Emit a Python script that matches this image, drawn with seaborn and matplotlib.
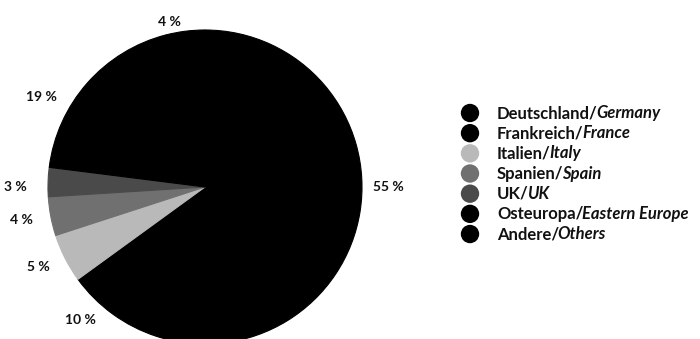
import matplotlib
matplotlib.use("Agg")
import matplotlib.pyplot as plt
import seaborn as sns
import numpy as np

# ---- data ----
categories_de = ["Deutschland", "Frankreich", "Italien", "Spanien", "UK", "Osteuropa", "Andere"]
categories_en = ["Germany", "France", "Italy", "Spain", "UK", "Eastern Europe", "Others"]
shares = [55, 10, 5, 4, 3, 19, 4]
pct_labels = [f"{v} %" for v in shares]

# ---- style ----
sns.set_theme(style="white")
plt.rcParams["font.family"] = ["Lato", "DejaVu Sans"]
colors = ["#000000", "#000000", "#b9b9b9", "#707070", "#4a4a4a", "#000000", "#000000"]

# label positions (polar: angle in degrees, radius in pie units)
label_layout = [(0, 1.17), (226.8, 1.16), (205.6, 1.18), (190.2, 1.185),
                (180, 1.21), (151.3, 1.19), (102, 1.075)]

W, H = 700, 339
R = 157.0
cx, cy = 205.0, 187.0

fig = plt.figure(figsize=(W / 100, H / 100), dpi=100)
fig.patch.set_facecolor("white")
ax = fig.add_axes([0, 0, 2 * cx / W, 1])
wedges, _ = ax.pie(shares, colors=colors, startangle=90, counterclock=False,
                   wedgeprops=dict(linewidth=0.8))
for w in wedges:
    w.set_edgecolor(w.get_facecolor())
ax.set_xlim(-cx / R, cx / R)
ax.set_ylim(-(H - cy) / R, cy / R)
ax.set_aspect("equal")
ax.axis("off")

for lab, (ang, rad) in zip(pct_labels, label_layout):
    a = np.deg2rad(ang)
    ax.text(rad * np.cos(a), rad * np.sin(a), lab, ha="center", va="center",
            fontsize=10, fontweight="bold", color="#111111")

# ---- legend (manual) ----
ax2 = fig.add_axes([0, 0, 1, 1])
ax2.set_xlim(0, W)
row0, step = 113.0, 20.17
ax2.set_ylim((H - row0) / step, -row0 / step)
ax2.axis("off")
ax2.patch.set_alpha(0)
rows = np.arange(len(categories_de))
ax2.scatter(np.full(len(rows), 470.0), rows, s=175, c=colors, linewidths=0)

fig.canvas.draw()
renderer = fig.canvas.get_renderer()
fs = 12
for i, (de, en) in enumerate(zip(categories_de, categories_en)):
    t = ax2.text(497, i + 0.25, de + "/", ha="left", va="baseline", fontsize=fs,
                 fontweight="bold", color="#111111")
    bb = t.get_window_extent(renderer=renderer)
    x1 = ax2.transData.inverted().transform((bb.x1, bb.y0))[0]
    ax2.text(x1 - 1.5, i + 0.25, en, ha="left", va="baseline", fontsize=fs,
             fontweight="bold", fontstyle="italic", color="#111111")

fig.savefig("out.png", dpi=100, facecolor="white")
